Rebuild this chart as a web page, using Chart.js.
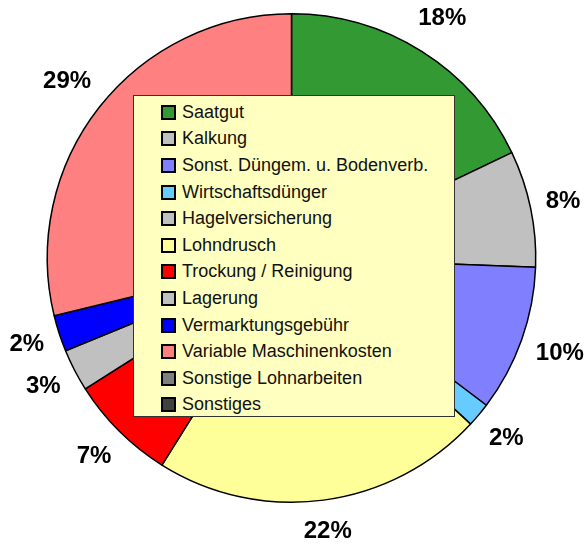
<!DOCTYPE html>
<html lang="de">
<head>
  <meta charset="UTF-8" />
  <title>Kostenanteile</title>
  <style>
    body {
      margin: 0;
      background: #fff;
      font-family: Arial, 'Liberation Sans', sans-serif;
    }
    #wrap {
      position: relative;
      width: 587px;
      height: 545px;
    }
    #legend {
      position: absolute;
      left: 133px;
      top: 95px;
      width: 322px;
      height: 322px;
      background: #ffffc0;
      border: 1px solid #333;
      box-sizing: border-box;
      padding-top: 3px;
    }
    .item {
      display: flex;
      align-items: center;
      height: 26.6px;
      padding-left: 27px;
      font-size: 18px;
      color: #111;
      white-space: nowrap;
    }
    .box {
      width: 11px;
      height: 11px;
      border: 2px solid #000;
      margin-right: 6px;
      flex: none;
    }
  </style>
  <script src="https://cdn.jsdelivr.net/npm/chart.js"></script>
</head>
<body>
  <div id="wrap">
    <canvas id="pie" width="587" height="545"></canvas>
    <div id="legend"></div>
  </div>
  <script>
    // cost categories, clockwise from 12 o'clock
    const categories = [
      "Saatgut", "Kalkung", "Sonst. Düngem. u. Bodenverb.", "Wirtschaftsdünger",
      "Hagelversicherung", "Lohndrusch", "Trockung / Reinigung", "Lagerung",
      "Vermarktungsgebühr", "Variable Maschinenkosten", "Sonstige Lohnarbeiten", "Sonstiges"
    ];
    // share in percent
    const shares = [17.9, 7.7, 9.7, 1.6, 0, 22.0, 7.1, 2.8, 2.4, 28.8, 0, 0];
    const colors = [
      "#339933", "#c0c0c0", "#8080ff", "#66ccff",
      "#c0c0c0", "#ffff99", "#ff0000", "#c0c0c0",
      "#0000ff", "#ff8080", "#808080", "#404040"
    ];

    // percentage labels outside the pie
    const outsideLabels = {
      id: 'outsideLabels',
      afterDatasetsDraw(chart) {
        const ctx = chart.ctx;
        const meta = chart.getDatasetMeta(0);
        const total = shares.reduce((a, b) => a + b, 0);
        ctx.save();
        ctx.font = "bold 24px Arial, 'Liberation Sans', sans-serif";
        ctx.fillStyle = "#000";
        ctx.textAlign = "center";
        ctx.textBaseline = "middle";
        meta.data.forEach((arc, i) => {
          if (!shares[i]) return;
          const mid = (arc.startAngle + arc.endAngle) / 2;
          const txt = Math.round(shares[i] / total * 100) + "%";
          const w = ctx.measureText(txt).width;
          const h = 30;
          const c = Math.cos(mid), s = Math.sin(mid);
          const r = arc.outerRadius + 13 + Math.abs(c) * w / 2 + Math.abs(s) * h / 2;
          ctx.fillText(txt, arc.x + c * r, arc.y + s * r);
        });
        ctx.restore();
      }
    };

    const chart = new Chart(document.getElementById("pie"), {
      type: 'pie',
      data: {
        labels: categories,
        datasets: [{
          data: shares,
          backgroundColor: colors,
          borderColor: "#000",
          borderWidth: 1.5
        }]
      },
      options: {
        responsive: false,
        animation: false,
        layout: { padding: { top: 13, bottom: 42, left: 46, right: 50 } },
        plugins: {
          legend: { display: false },
          tooltip: { enabled: false }
        }
      },
      plugins: [outsideLabels]
    });

    // legend box drawn over the pie
    const legend = document.getElementById("legend");
    categories.forEach((name, i) => {
      const row = document.createElement("div");
      row.className = "item";
      const box = document.createElement("span");
      box.className = "box";
      box.style.background = colors[i];
      row.appendChild(box);
      row.appendChild(document.createTextNode(name));
      legend.appendChild(row);
    });
  </script>
</body>
</html>
